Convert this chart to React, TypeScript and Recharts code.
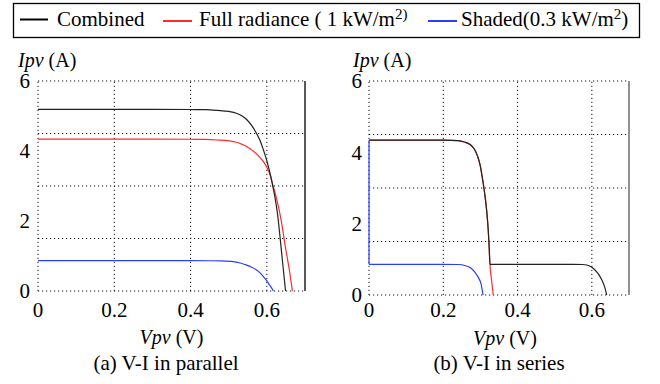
import React from 'react';
import { LineChart, Line, XAxis, YAxis, ReferenceLine } from 'recharts';

const FONT = "'Liberation Serif', 'DejaVu Serif', serif";

// axis ticks and dotted grid values
const vTicks = [0, 0.2, 0.4, 0.6];
const iTicks = [0, 2, 4, 6];
const vGrid = [0, 0.2, 0.4, 0.6];
const iGrid = [0, 1.5, 3, 4.5, 6];

// (a) parallel: [Vpv, Ipv]
const parCombined = [
  [0, 5.19], [0.1, 5.19], [0.2, 5.19], [0.3, 5.19], [0.4, 5.185], [0.44, 5.18], [0.47, 5.16],
  [0.5, 5.13], [0.52, 5.08], [0.535, 5.0], [0.547, 4.9], [0.56, 4.73], [0.573, 4.5], [0.583, 4.28],
  [0.591, 4.03], [0.6, 3.72], [0.608, 3.38], [0.615, 3.02], [0.621, 2.69], [0.628, 2.2],
  [0.634, 1.6], [0.641, 0.85], [0.649, 0],
];
const parFull = [
  [0, 4.34], [0.1, 4.34], [0.2, 4.34], [0.3, 4.34], [0.4, 4.335], [0.44, 4.33], [0.47, 4.315],
  [0.5, 4.29], [0.52, 4.25], [0.535, 4.19], [0.547, 4.13], [0.565, 3.99], [0.582, 3.82], [0.592, 3.68],
  [0.6, 3.53], [0.609, 3.3], [0.617, 2.98], [0.626, 2.62], [0.634, 2.22], [0.641, 1.8], [0.647, 1.36],
  [0.653, 0.98], [0.659, 0.6], [0.667, 0],
];
const parShaded = [
  [0, 0.87], [0.1, 0.87], [0.2, 0.87], [0.3, 0.87], [0.4, 0.87], [0.45, 0.865], [0.48, 0.86],
  [0.512, 0.84], [0.53, 0.8], [0.547, 0.74], [0.56, 0.68], [0.573, 0.6], [0.583, 0.51],
  [0.591, 0.41], [0.598, 0.32], [0.604, 0.22], [0.611, 0.11], [0.617, 0],
];

// (b) series
const serFull = [
  [0, 4.34], [0.1, 4.34], [0.2, 4.34], [0.24, 4.33], [0.257, 4.29], [0.272, 4.22], [0.283, 4.1],
  [0.292, 3.9], [0.299, 3.65], [0.305, 3.3], [0.311, 2.88], [0.3167, 2.38], [0.321, 1.82],
  [0.3235, 1.35], [0.3256, 0.86], [0.33, 0.42], [0.3345, 0],
];
const serCombined = [
  [0, 4.34], [0.1, 4.34], [0.2, 4.34], [0.24, 4.33], [0.257, 4.29], [0.272, 4.22], [0.283, 4.1],
  [0.292, 3.9], [0.299, 3.65], [0.305, 3.3], [0.311, 2.88], [0.3167, 2.38], [0.321, 1.82],
  [0.3235, 1.35], [0.3256, 0.86], [0.35, 0.86], [0.4, 0.86], [0.5, 0.86], [0.55, 0.86],
  [0.575, 0.855], [0.586, 0.84], [0.6, 0.78], [0.613, 0.65], [0.62, 0.55], [0.627, 0.42],
  [0.634, 0.24], [0.64, 0],
];
const serShadedBypass = [[0, 4.34], [0, 0.86]];
const serShaded = [
  [0, 0.86], [0.1, 0.86], [0.2, 0.86], [0.24, 0.855], [0.26, 0.82], [0.275, 0.75],
  [0.285, 0.64], [0.295, 0.48], [0.302, 0.3], [0.307, 0],
];

const BLACK = '#222';
const RED = '#ff2b2b';
const BLUE = '#2b3dff';

const toPts = (rows: number[][]) => rows.map(([v, i]) => ({ v, i }));

type Series = { data: number[][]; color: string; type: 'monotone' | 'linear' };

interface PanelProps {
  x: number;
  axisW: number;
  plotW: number;
  top: number;
  plotH: number;
  xGap: number;
  yGap: number;
  edge: string;
  series: Series[];
}

const tickStyle = { fill: '#000', fontSize: 21, fontFamily: FONT };
const dotted = { stroke: '#111', strokeWidth: 1, strokeDasharray: '1.2 2.8' };

const Panel: React.FC<PanelProps> = ({ x, axisW, plotW, top, plotH, xGap, yGap, edge, series }) => (
  <div style={{ position: 'absolute', left: x, top: 0 }}>
    <LineChart width={330} height={384} margin={{ top, right: 330 - axisW - plotW, bottom: 0, left: 0 }}>
      <XAxis
        type="number"
        dataKey="v"
        domain={[0, 0.7]}
        ticks={vTicks}
        interval={0}
        axisLine={false}
        tickLine={false}
        tickSize={0}
        tickMargin={xGap}
        height={384 - top - plotH}
        tick={tickStyle}
      />
      <YAxis
        type="number"
        domain={[0, 6]}
        ticks={iTicks}
        interval={0}
        axisLine={false}
        tickLine={false}
        tickSize={0}
        tickMargin={yGap}
        width={axisW}
        tick={tickStyle}
      />
      {iGrid.map((g) => (
        <ReferenceLine key={'h' + g} y={g} {...dotted} />
      ))}
      {vGrid.map((g) => (
        <ReferenceLine key={'v' + g} x={g} {...dotted} />
      ))}
      <ReferenceLine x={0.7} stroke={edge} strokeWidth={1.3} />
      {series.map((s, k) => (
        <Line
          key={k}
          data={toPts(s.data)}
          dataKey="i"
          type={s.type}
          stroke={s.color}
          strokeWidth={1.2}
          dot={false}
          isAnimationActive={false}
        />
      ))}
    </LineChart>
  </div>
);

const App: React.FC = () => (
  <div style={{ position: 'absolute', left: 0, top: 0, width: 660, height: 384, background: '#fff', fontFamily: FONT }}>
    <Panel
      x={0}
      axisW={38}
      plotW={267}
      top={81}
      plotH={210}
      xGap={11}
      yGap={8}
      edge="#000"
      series={[
        { data: parShaded, color: BLUE, type: 'monotone' },
        { data: parFull, color: RED, type: 'monotone' },
        { data: parCombined, color: BLACK, type: 'monotone' },
      ]}
    />
    <Panel
      x={330}
      axisW={39}
      plotW={260}
      top={81}
      plotH={214}
      xGap={7}
      yGap={7}
      edge="#555"
      series={[
        { data: serShadedBypass, color: BLUE, type: 'linear' },
        { data: serShaded, color: BLUE, type: 'monotone' },
        { data: serFull, color: RED, type: 'monotone' },
        { data: serCombined, color: BLACK, type: 'monotone' },
      ]}
    />
    <svg width={660} height={384} style={{ position: 'absolute', left: 0, top: 0, pointerEvents: 'none' }}>
      <g fontFamily={FONT} fill="#000">
        <rect x={13.5} y={3.5} width={626} height={34} fill="#fff" stroke="#000" strokeWidth={1.3} />
        <line x1={20} x2={48} y1={19.5} y2={19.5} stroke="#000" strokeWidth={2} />
        <text x={57} y={26} fontSize={21}>Combined</text>
        <line x1={163} x2={192} y1={21} y2={21} stroke={RED} strokeWidth={2} />
        <text x={199} y={26} fontSize={21}>
          Full radiance ( 1 kW/m<tspan fontSize={15} dy={-7}>2)</tspan>
        </text>
        <line x1={428} x2={457} y1={21} y2={21} stroke={BLUE} strokeWidth={2} />
        <text x={461} y={26} fontSize={21}>
          Shaded(0.3 kW/m<tspan fontSize={15} dy={-7}>2</tspan>
          <tspan dy={7}>)</tspan>
        </text>

        <text x={18} y={67} fontSize={20}>
          <tspan fontStyle="italic">Ipv</tspan> (A)
        </text>
        <text x={353} y={67} fontSize={20}>
          <tspan fontStyle="italic">Ipv</tspan> (A)
        </text>

        <text x={171.5} y={344} fontSize={20} textAnchor="middle">
          <tspan fontStyle="italic">Vpv</tspan> (V)
        </text>
        <text x={505} y={345} fontSize={20} textAnchor="middle">
          <tspan fontStyle="italic">Vpv</tspan> (V)
        </text>

        <text x={166} y={370} fontSize={21} textAnchor="middle">(a) V-I in parallel</text>
        <text x={499} y={370} fontSize={21} textAnchor="middle">(b) V-I in series</text>
      </g>
    </svg>
  </div>
);

export default App;
